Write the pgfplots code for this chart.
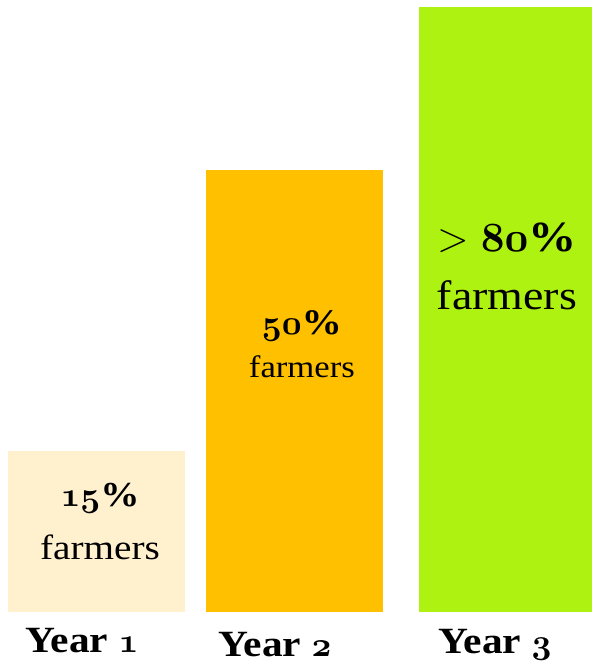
\documentclass[border=0pt]{standalone}
\usepackage{fontspec}
\setmainfont{Liberation Serif}[FakeStretch=1.12]
\usepackage{pgfplots}
\pgfplotsset{compat=1.18}
\definecolor{c1}{RGB}{255,240,206}
\definecolor{c2}{RGB}{255,192,0}
\definecolor{c3}{RGB}{174,242,18}
\newcommand{\osn}[1]{{\boldmath$\mathnormal{#1}$}}
\begin{document}
\begin{tikzpicture}
\begin{axis}[
  width=296pt, height=333.5pt, scale only axis,
  xmin=0, xmax=592, ymin=-55, ymax=612,
  axis lines=none, ticks=none, clip=false,
  ybar, bar width=177, bar shift=0pt,
]
\path (axis cs:0,-55) rectangle (axis cs:592,612);
\addplot[fill=c1, draw=none] coordinates {(96.5,161)};
\addplot[fill=c2, draw=none] coordinates {(295,442)};
\addplot[fill=c3, draw=none, bar width=173] coordinates {(505.5,605)};
\node[font=\fontsize{17.5}{18}\selectfont\bfseries] at (axis cs:100,114) {\osn{15}\%};
\node[font=\fontsize{17.5}{18}\selectfont] at (axis cs:100,65) {farmers};
\node[font=\fontsize{18}{18}\selectfont\bfseries] at (axis cs:302,286) {\osn{50}\%};
\node[font=\fontsize{15.5}{18}\selectfont] at (axis cs:302,245) {farmers};
\node[font=\fontsize{21.5}{24}\selectfont\bfseries] at (axis cs:507,374) {$>$ \osn{80}\%};
\node[font=\fontsize{20.5}{20}\selectfont] at (axis cs:507,317) {farmers};
\node[font=\fontsize{18.5}{22}\selectfont\bfseries] at (axis cs:82,-29) {Year \osn{1}};
\node[font=\fontsize{18.5}{22}\selectfont\bfseries] at (axis cs:275,-33) {Year \osn{2}};
\node[font=\fontsize{18.5}{22}\selectfont\bfseries] at (axis cs:495,-33) {Year \osn{3}};
\end{axis}
\end{tikzpicture}
\end{document}
